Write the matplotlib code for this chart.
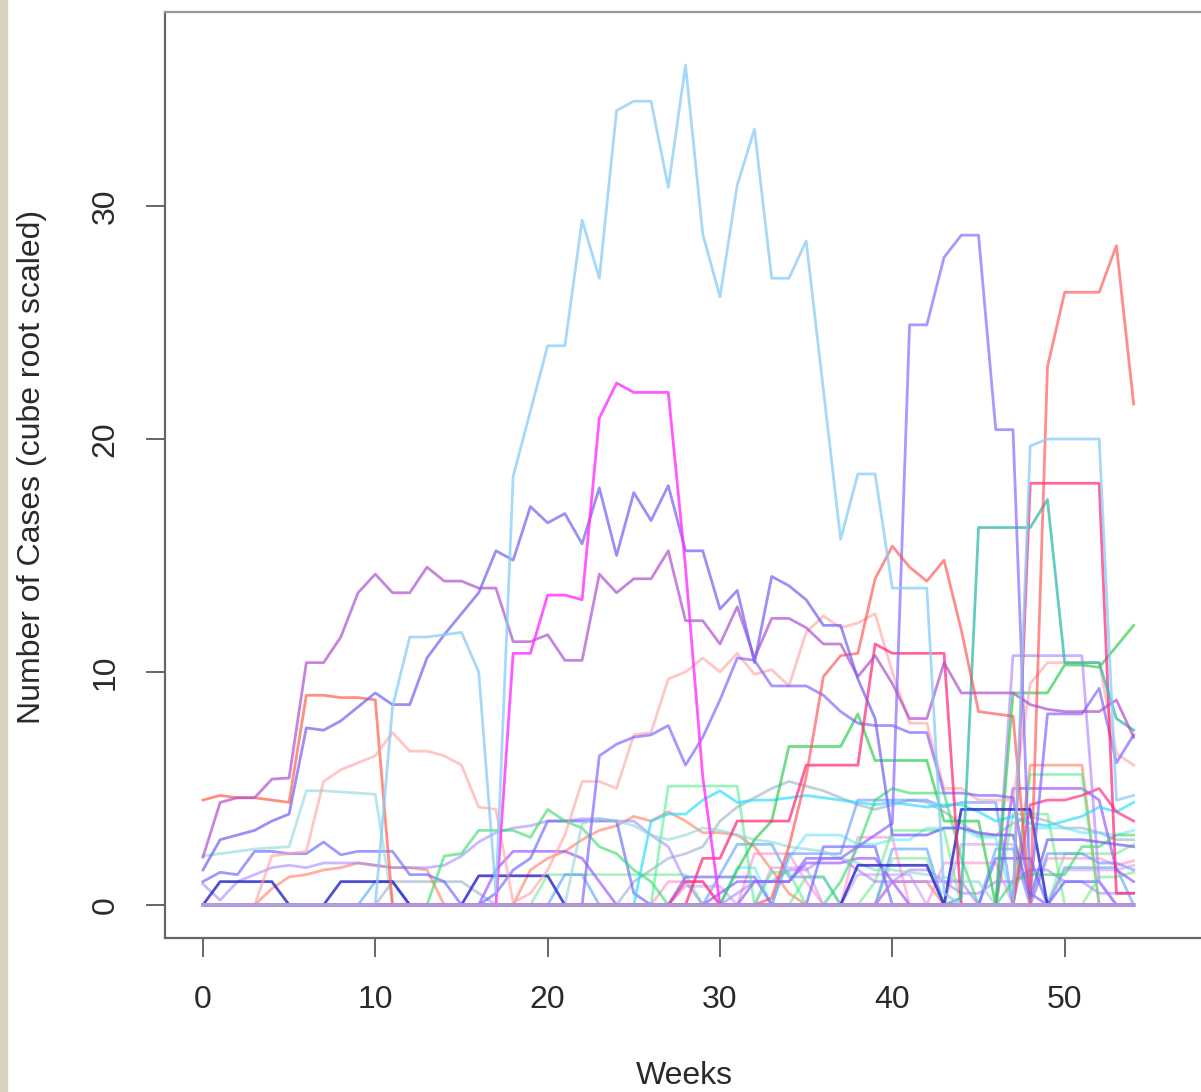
import matplotlib
matplotlib.use("Agg")
from matplotlib import pyplot as plt
from matplotlib.patches import Rectangle

plt.rcParams['font.family'] = ['Liberation Sans', 'DejaVu Sans']

weeks = list(range(55))

# cube-root scaled weekly case counts, one list per region
sky = [0, 0, 0, 0, 0, 0, 0, 0, 0, 0,
       0, 8.5, 11.5, 11.5, 11.6, 11.7, 10.0, 0.5, 18.4, 21.2,
       24.0, 24.0, 29.4, 26.9, 34.1, 34.5, 34.5, 30.8, 36.05, 28.8,
       26.1, 30.9, 33.3, 26.9, 26.9, 28.5, 22.1, 15.7, 18.5, 18.5,
       13.6, 13.6, 13.6, 0.5, 0, 0, 0, 0, 19.7, 20.0,
       20.0, 20.0, 20.0, 4.5, 4.7]
magenta = [0, 0, 0, 0, 0, 0, 0, 0, 0, 0,
           0, 0, 0, 0, 0, 0, 0, 0, 10.8, 10.8,
           13.3, 13.3, 13.1, 20.9, 22.4, 22.0, 22.0, 22.0, 14.5, 5.5,
           0, 0, 0, 0, 0, 0, 0, 0, 0, 0,
           0, 0, 0, 0, 0, 0, 0, 0, 0, 0,
           0, 0, 0, 0, 0]
orchid = [2.05, 4.4, 4.6, 4.6, 5.4, 5.45, 10.4, 10.4, 11.5, 13.4,
          14.2, 13.4, 13.4, 14.5, 13.9, 13.9, 13.6, 13.6, 11.3, 11.3,
          11.6, 10.5, 10.5, 14.2, 13.4, 14.0, 14.0, 15.2, 12.2, 12.2,
          11.2, 12.8, 10.6, 12.3, 12.3, 11.9, 11.2, 11.2, 9.8, 10.7,
          9.5, 8.0, 8.0, 10.4, 9.1, 9.1, 9.1, 9.1, 8.6, 8.4,
          8.3, 8.3, 8.3, 8.8, 7.2]
slate = [1.5, 2.8, 3.0, 3.2, 3.6, 3.9, 7.6, 7.5, 7.9, 8.5,
         9.1, 8.6, 8.6, 10.6, 11.6, 12.5, 13.4, 15.2, 14.8, 17.1,
         16.4, 16.8, 15.5, 17.9, 15.0, 17.7, 16.5, 18.0, 15.2, 15.2,
         12.7, 13.5, 10.4, 14.1, 13.7, 13.1, 12.0, 12.0, 9.7, 8.0,
         3.0, 3.0, 3.0, 3.3, 3.3, 3.1, 3.0, 3.0, 0.3, 2.8,
         2.8, 2.8, 2.7, 2.6, 2.5]
salmon_early = [4.5, 4.7, 4.6, 4.6, 4.5, 4.4, 9.0, 9.0, 8.9, 8.9,
                8.8, 0, 0, 0, 0, 0, 0, 0, 0, 0,
                0, 0, 0, 0, 0, 0, 0, 0, 0, 0,
                0, 0, 0, 0, 0, 0, 0, 0, 0, 0,
                0, 0, 0, 0, 0, 0, 0, 0, 0, 0,
                0, 0, 0, 0, 0]
red_late = [0, 0, 0, 0, 0, 0, 0, 0, 0, 0,
            0, 0, 0, 0, 0, 0, 0, 0, 0, 0,
            0, 0, 0, 0, 0, 0, 0, 0, 0, 0,
            0, 0, 0, 0.3, 2.5, 5.5, 9.8, 10.7, 10.8, 14.0,
            15.4, 14.5, 13.9, 14.8, 11.8, 8.3, 8.2, 8.1, 0, 23.1,
            26.3, 26.3, 26.3, 28.3, 21.5]
violet_big = [0, 0, 0, 0, 0, 0, 0, 0, 0, 0,
              0, 0, 0, 0, 0, 0, 0, 0, 0, 0,
              0, 0, 0, 0, 0, 0, 0, 0, 0, 0,
              0, 0, 1.0, 1.0, 1.0, 2.0, 2.0, 2.0, 2.5, 3.0,
              3.5, 24.9, 24.9, 27.8, 28.75, 28.75, 20.4, 20.4, 0.5, 0,
              0, 0, 0, 0, 0]
teal = [0, 0, 0, 0, 0, 0, 0, 0, 0, 0,
        0, 0, 0, 0, 0, 0, 0, 0, 0, 0,
        0, 0, 0, 0, 0, 0, 0, 0, 0, 0,
        0, 0, 0, 0, 0, 0, 0, 0, 0, 0,
        0, 0, 0, 0, 0.3, 16.2, 16.2, 16.2, 16.2, 17.4,
        10.4, 10.4, 10.4, 8.0, 7.5]
crimson = [0, 0, 0, 0, 0, 0, 0, 0, 0, 0,
           0, 0, 0, 0, 0, 0, 0, 0, 0, 0,
           0, 0, 0, 0, 0, 0, 0, 0, 0, 2.0,
           2.0, 3.6, 3.6, 3.6, 3.6, 6.0, 6.0, 6.0, 6.0, 11.2,
           10.8, 10.8, 10.8, 10.8, 0, 0, 0, 0, 18.1, 18.1,
           18.1, 18.1, 18.1, 0.5, 0.5]
lightpink = [0, 0, 0, 0, 2.1, 2.2, 2.3, 5.3, 5.8, 6.1,
             6.4, 7.4, 6.6, 6.6, 6.4, 6.0, 4.2, 4.1, 0.1, 0.5,
             1.5, 3.0, 5.3, 5.3, 5.0, 7.3, 7.4, 9.7, 10.0, 10.6,
             10.0, 10.8, 9.9, 10.1, 9.4, 11.7, 12.4, 11.9, 12.1, 12.5,
             10.0, 7.8, 7.8, 5.0, 5.0, 4.5, 4.5, 4.5, 9.5, 10.4,
             10.4, 10.4, 10.4, 6.5, 6.0]
bluevio = [0, 0, 0, 0, 0, 0, 0, 0, 0, 0,
           0, 0, 0, 0, 0, 0, 0, 0, 0, 0,
           0, 0, 0, 6.4, 6.9, 7.2, 7.3, 7.7, 6.0, 7.2,
           8.8, 10.6, 10.5, 9.4, 9.4, 9.4, 9.0, 8.3, 7.8, 7.7,
           7.7, 7.4, 7.4, 4.8, 4.8, 4.7, 4.7, 4.6, 0.5, 8.2,
           8.2, 8.2, 9.3, 6.1, 7.3]
lightteal = [2.1, 2.2, 2.3, 2.4, 2.45, 2.5, 4.9, 4.9, 4.85, 4.8,
             4.75, 0, 0, 0, 0, 0, 0, 0, 0, 0,
             0, 0, 3.5, 3.7, 3.6, 3.4, 3.0, 2.8, 3.0, 3.3,
             3.2, 3.0, 2.8, 2.7, 2.5, 2.4, 2.3, 2.0, 1.8, 1.5,
             1.5, 1.4, 1.3, 1.2, 1.0, 1.0, 0, 0, 0, 0,
             0, 0, 0, 0, 0]
blue_low = [1.0, 1.4, 1.3, 2.3, 2.3, 2.2, 2.2, 2.7, 2.15, 2.3,
            2.3, 2.3, 1.3, 1.3, 1.0, 0, 0, 0.5, 1.5, 2.0,
            3.6, 3.6, 3.6, 3.6, 3.6, 0.5, 0, 0, 1.2, 1.2,
            1.2, 1.2, 1.2, 0, 0, 0, 2.5, 2.5, 2.5, 2.5,
            0, 0, 0, 0, 0, 0, 2.0, 2.0, 2.0, 0,
            1.0, 1.0, 1.0, 0, 0]
lavender = [0.9, 0.2, 1.0, 1.3, 1.6, 1.7, 1.6, 1.8, 1.8, 1.8,
            1.7, 1.6, 1.6, 1.6, 1.7, 2.1, 2.7, 3.1, 3.3, 3.4,
            3.6, 3.6, 3.7, 3.7, 3.6, 3.6, 3.0, 2.5, 1.0, 0,
            0, 0.5, 1.0, 1.0, 1.5, 1.5, 2.0, 2.0, 1.5, 1.0,
            1.0, 1.5, 1.5, 1.0, 0.5, 0.5, 1.0, 1.0, 1.5, 1.5,
            1.0, 1.0, 0.5, 0.5, 0.5]
darkblue = [0, 1.0, 1.0, 1.0, 1.0, 0, 0, 0, 1.0, 1.0,
            1.0, 1.0, 0, 0, 0, 0, 1.25, 1.25, 1.25, 1.25,
            1.25, 0, 0, 0, 0, 0, 0, 0, 0, 0,
            0, 0, 0, 0, 0, 0, 0, 0, 1.7, 1.7,
            1.7, 1.7, 1.7, 0, 4.1, 4.1, 4.1, 4.1, 4.1, 0,
            0, 0, 0, 0, 0]
green1 = [0, 0, 0, 0, 0, 0, 0, 0, 0, 0,
          0, 0, 0, 0, 2.1, 2.2, 3.2, 3.2, 3.2, 2.9,
          4.1, 3.6, 3.3, 2.5, 2.2, 1.5, 1.0, 0, 0, 0,
          0, 0, 0, 0, 0, 0, 0, 1.0, 2.5, 4.5,
          5.0, 4.8, 4.8, 4.8, 2.0, 0, 0, 1.0, 1.3, 1.3,
          1.3, 2.5, 2.5, 3.0, 3.0]
greenrect = [0, 0, 0, 0, 0, 0, 0, 0, 0, 0,
             0, 0, 0, 0, 0, 0, 0, 0, 0, 0,
             0, 0, 0, 0, 0, 0, 0, 5.1, 5.1, 5.1,
             5.1, 5.1, 0, 1.4, 1.4, 0, 0, 0, 0, 0,
             0, 0, 0, 0, 0, 0, 0, 0, 5.6, 5.6,
             5.6, 5.6, 0, 0, 0]
green2 = [0, 0, 0, 0, 0, 0, 0, 0, 0, 0,
          0, 0, 0, 0, 0, 0, 0, 0, 0, 0,
          0, 0, 0, 0, 0, 0, 0, 0, 0, 0,
          0, 1.5, 2.8, 3.6, 6.8, 6.8, 6.8, 6.8, 8.2, 6.2,
          6.2, 6.2, 6.2, 3.6, 3.6, 3.6, 0, 9.1, 9.1, 9.1,
          10.3, 10.3, 10.2, 11.1, 12.0]
cyan = [0, 0, 0, 0, 0, 0, 0, 0, 0, 0,
        0, 0, 0, 0, 0, 0, 0, 0, 0, 0,
        0, 0, 0, 0, 0, 0, 3.6, 3.9, 3.9, 4.5,
        4.9, 4.4, 4.5, 4.5, 4.6, 4.7, 4.6, 4.5, 4.4, 4.3,
        4.4, 4.3, 4.2, 4.3, 4.3, 4.0, 3.6, 3.8, 3.5, 3.4,
        3.6, 3.8, 4.2, 4.0, 4.4]
graybl = [0, 0, 0, 0, 0, 0, 0, 0, 0, 0,
          0, 1.0, 1.0, 1.0, 1.0, 1.0, 0.5, 0, 0, 0,
          0, 0, 0, 0, 0, 1.0, 1.5, 2.0, 2.2, 2.5,
          3.6, 4.2, 4.6, 5.0, 5.3, 5.1, 4.9, 4.6, 4.3, 4.1,
          4.3, 4.5, 4.4, 4.0, 3.5, 3.0, 3.0, 3.5, 3.8, 3.6,
          3.3, 3.3, 3.1, 2.8, 2.8]
sky2 = [0, 0, 0, 0, 0, 0, 0, 0, 0, 0,
        1.0, 1.0, 0, 0, 0, 0, 0, 0, 0, 0,
        0, 1.3, 1.3, 0, 0, 0, 0, 0, 0, 0,
        1.3, 2.6, 2.6, 2.6, 1.2, 1.2, 1.2, 0, 0, 0,
        2.4, 2.4, 2.4, 0, 0, 0, 2.4, 2.4, 0, 0,
        1.6, 1.6, 1.6, 1.6, 0]
salmon2 = [0, 0, 0, 0, 0.7, 1.2, 1.3, 1.5, 1.6, 1.8,
           1.7, 1.6, 1.6, 1.5, 0, 0, 0, 0, 0, 1.5,
           2.0, 2.3, 2.8, 3.2, 3.4, 3.8, 3.6, 4.0, 3.6, 3.1,
           3.1, 3.0, 2.5, 1.5, 0.5, 0, 0, 0, 0, 0,
           1.0, 1.0, 1.0, 0, 0, 0, 0, 0, 6.0, 6.0,
           6.0, 6.0, 0, 0, 0]
violet2 = [0, 0, 0, 0, 0, 0, 0, 0, 0, 0,
           0, 0, 0, 0, 0, 0, 0, 1.5, 2.3, 2.3,
           2.3, 2.3, 2.0, 1.0, 0, 0, 0, 0, 0, 0,
           0.5, 1.0, 1.0, 1.0, 1.0, 1.8, 1.8, 1.8, 2.0, 2.0,
           1.0, 0, 0, 0, 0, 0, 0, 5.0, 5.0, 5.0,
           5.0, 5.0, 4.5, 1.5, 1.0]
lilac = [0, 0, 0, 0, 0, 0, 0, 0, 0, 0,
         0, 0, 0, 0, 0, 0, 0, 0, 0, 0,
         0, 0, 0, 0, 0, 0, 0, 0, 0, 0,
         0, 0, 0, 0, 0, 0, 0, 0, 0, 0,
         1.0, 1.0, 1.0, 1.0, 1.0, 0, 0, 10.7, 10.7, 10.7,
         10.7, 10.7, 1.0, 0, 0]
pinkred = [0, 0, 0, 0, 0, 0, 0, 0, 0, 0,
           0, 0, 0, 0, 0, 0, 0, 0, 0, 0,
           0, 0, 0, 0, 0, 0, 0, 0, 1.0, 1.0,
           0, 0, 0, 0, 0, 0, 0, 0, 0, 0,
           0, 0, 0, 0, 0, 0, 0, 0, 4.3, 4.5,
           4.5, 4.7, 5.0, 4.0, 3.6]
lightgreen = [0, 0, 0, 0, 0, 0, 0, 0, 0, 0,
              0, 0, 0, 0, 0, 0, 0, 0, 0, 0,
              1.3, 1.3, 1.3, 1.3, 1.3, 1.3, 1.3, 1.3, 1.3, 0,
              0, 0, 0, 0, 0, 0, 0, 0, 0, 0,
              2.0, 2.0, 2.0, 0, 0, 0, 0, 0, 0, 0,
              2.2, 2.2, 2.2, 2.2, 2.6]
# extra low-level regions crowding the right half
pink_low = [0, 0, 0, 0, 0, 0, 0, 0, 0, 0,
            0, 0, 0, 0, 0, 0, 0, 0, 0, 0,
            0, 0, 0, 0, 0, 0, 0, 1.0, 1.0, 1.0,
            0, 0, 2.2, 2.2, 2.2, 1.0, 0, 0, 2.9, 2.9,
            2.9, 0, 0, 1.8, 1.8, 1.8, 1.8, 0, 0, 2.0,
            2.0, 2.0, 2.0, 1.7, 1.9]
cyan_low = [0, 0, 0, 0, 0, 0, 0, 0, 0, 0,
            0, 0, 0, 0, 0, 0, 0, 0, 0, 0,
            0, 0, 0, 0, 0, 0, 0, 0, 0, 0,
            0, 1.6, 1.6, 0, 2.0, 3.0, 3.0, 3.0, 2.6, 2.6,
            2.8, 2.8, 3.3, 3.3, 3.3, 2.9, 2.9, 0, 3.3, 3.3,
            3.3, 3.1, 3.1, 3.0, 3.2]
green_low = [0, 0, 0, 0, 0, 0, 0, 0, 0, 0,
             0, 0, 0, 0, 0, 0, 0, 0, 0, 0,
             0, 0, 0, 0, 0, 0, 0, 0, 0, 0,
             0, 0, 0, 0, 0, 1.2, 1.2, 0, 0, 1.0,
             3.2, 3.2, 3.2, 3.2, 0, 0, 0, 3.9, 3.9, 3.9,
             0, 0, 1.2, 1.2, 1.4]
blue_mid = [0, 0, 0, 0, 0, 0, 0, 0, 0, 0,
            0, 0, 0, 0, 0, 0, 0, 0, 0, 0,
            0, 0, 0, 0, 0, 0, 0, 0, 0, 0,
            0, 0, 0, 0, 2.2, 2.2, 2.2, 2.2, 4.5, 4.5,
            4.5, 4.5, 4.5, 4.2, 4.4, 4.4, 4.4, 0, 0, 2.2,
            2.2, 2.2, 1.8, 1.8, 1.5]
mauve_low = [0, 0, 0, 0, 0, 0, 0, 0, 0, 0,
             0, 0, 0, 0, 0, 0, 0, 0, 0, 0,
             0, 0, 0, 0, 0, 0, 0, 0, 0.8, 0.8,
             0.8, 0, 0, 1.6, 1.6, 1.6, 0, 0, 1.3, 1.3,
             1.3, 1.3, 0, 0, 2.6, 2.6, 2.6, 2.6, 0, 0,
             1.5, 1.5, 1.5, 1.5, 1.7]
baseline = [0] * 55

series = [
    (lightgreen, '#66e088', 0.5), (graybl, '#9ab0c8', 0.6),
    (sky2, '#4499ff', 0.55), (salmon2, '#ff7050', 0.55),
    (pink_low, '#ff88cc', 0.55), (cyan_low, '#55e6ff', 0.55),
    (green_low, '#55e870', 0.5), (blue_mid, '#5a8cff', 0.55),
    (mauve_low, '#c79aef', 0.55),
    (violet2, '#9950ff', 0.65), (lavender, '#a080ff', 0.55),
    (blue_low, '#6a66ff', 0.65), (green1, '#30dd60', 0.6),
    (greenrect, '#44ee88', 0.55), (cyan, '#22ddff', 0.65),
    (lightteal, '#90d6d6', 0.6), (pinkred, '#ff3388', 0.7),
    (lilac, '#b088ff', 0.65), (green2, '#22cc44', 0.65),
    (darkblue, '#3030cc', 0.85), (salmon_early, '#ff6048', 0.7),
    (lightpink, '#ffa0a0', 0.6), (bluevio, '#7a5cff', 0.65),
    (crimson, '#ff2277', 0.7), (teal, '#30bba8', 0.75),
    (violet_big, '#8a6aff', 0.7), (red_late, '#ff5050', 0.65),
    (orchid, '#b050d0', 0.7), (slate, '#7060f0', 0.7),
    (magenta, '#ff30ff', 0.8), (sky, '#88ccf8', 0.75),
]
for vals in [s[0] for s in series]:
    assert len(vals) == 55

fig = plt.figure(figsize=(12.01, 10.92), dpi=100)
fig.patches.append(Rectangle((0, 0), 7 / 1201, 1, transform=fig.transFigure,
                             color='#d9d3be', zorder=0))
ax = fig.add_axes([165 / 1201, 1 - 938 / 1092, 1060 / 1201, 926 / 1092])

for vals, col, a in series:
    ax.plot(weeks, vals, color=col, alpha=a, lw=2.0)
ax.plot(weeks, baseline, color='#b0a0e0', lw=2.6, alpha=0.9)

ax.set_xlim(-2.2, 59.3)
ax.set_ylim(-1.42, 38.33)
for s in ['left', 'bottom']:
    ax.spines[s].set_color('#666666')
    ax.spines[s].set_linewidth(1.6)
ax.spines['top'].set_color('#999999')
ax.spines['top'].set_linewidth(1.6)
ax.spines['right'].set_visible(False)

ax.set_xticks([0, 10, 20, 30, 40, 50])
ax.set_yticks([0, 10, 20, 30])
ax.set_yticklabels(['0', '10', '20', '30'], rotation=90, va='center')
ax.tick_params(axis='both', length=14, width=1.4, color='#666666',
               labelsize=23, labelcolor='#2a2a2a')
ax.tick_params(axis='x', pad=20)
ax.tick_params(axis='y', pad=18)

fig.text(684 / 1201, 1 - 1076 / 1092, 'Weeks', ha='center', va='center',
         fontsize=23, color='#2a2a2a')
fig.text(32 / 1201, 1 - 467 / 1092, 'Number of Cases (cube root scaled)',
         rotation=90, ha='center', va='center', fontsize=23, color='#2a2a2a')

plt.savefig('out.png', dpi=100)
